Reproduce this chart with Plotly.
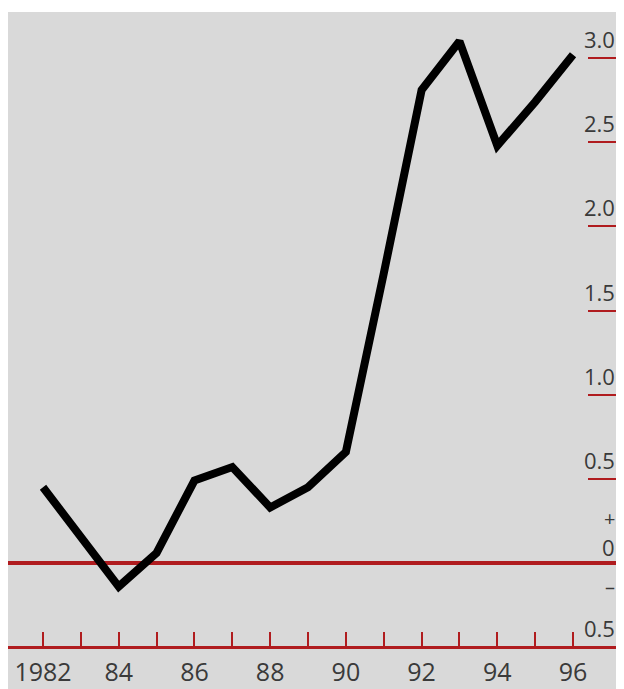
import plotly.graph_objects as go

years = list(range(1982, 1997))
values = [0.45, 0.15, -0.14, 0.06, 0.49, 0.57, 0.33, 0.45, 0.66, 1.72, 2.81, 3.10, 2.48, 2.74, 3.02]

x_tick_vals = list(range(1982, 1997))
x_tick_text = ["1982", "", "84", "", "86", "", "88", "", "90", "", "92", "", "94", "", "96"]

y_tick_vals = [0.5, 1.0, 1.5, 2.0, 2.5, 3.0]
y_label_vals = [3.0, 2.5, 2.0, 1.5, 1.0, 0.5, -0.5]
y_label_text = ["3.0", "2.5", "2.0", "1.5", "1.0", "0.5", "0.5"]

RED = "#b01c1f"
TXT = "#3a3a3a"
FONT = "Open Sans"

# visible page area starts at (8, 8) and ends near x = 616
W, H = 608, 681
ML, MR, MT, MB = 0, 0, 4, 0
plot_w = W - ML - MR
plot_h = H - MT - MB
px_per_year = 37.86
px_per_unit = 168.3
x_lo = 1982 - (43 - 8) / px_per_year
x_hi = x_lo + plot_w / px_per_year
y_top = (563 - 12) / px_per_unit
y_bot = y_top - plot_h / px_per_unit

fig = go.Figure()
fig.add_trace(go.Scatter(
    x=years, y=values, mode="lines",
    line=dict(color="black", width=8),
    hoverinfo="skip", showlegend=False,
))

annotations = []
for v, t in zip(y_label_vals, y_label_text):
    annotations.append(dict(
        x=1, xref="paper", y=v, yref="y", text=t, showarrow=False,
        xanchor="right", yanchor="bottom", xshift=1, yshift=2,
        font=dict(family=FONT, size=22, color=TXT),
    ))
annotations.append(dict(
    x=1, xref="paper", y=0, yref="y", text="0", showarrow=False,
    xanchor="right", yanchor="bottom", xshift=1, yshift=-1,
    font=dict(family=FONT, size=22, color=TXT),
))
annotations.append(dict(
    x=1, xref="paper", y=0, yref="y", text="+", showarrow=False,
    xanchor="right", yanchor="bottom", xshift=1, yshift=29,
    font=dict(family=FONT, size=20, color=TXT),
))
annotations.append(dict(
    x=1, xref="paper", y=0, yref="y", text="–", showarrow=False,
    xanchor="right", yanchor="top", xshift=1, yshift=-8,
    font=dict(family=FONT, size=20, color=TXT),
))

fig.update_layout(
    width=W, height=H,
    margin=dict(l=ML, r=MR, t=MT, b=MB),
    paper_bgcolor="white",
    plot_bgcolor="#d9d9d9",
    annotations=annotations,
    xaxis=dict(
        range=[x_lo, x_hi],
        anchor="free", position=(plot_h - (647 - 12)) / plot_h,
        automargin=False,
        showline=True, linecolor=RED, linewidth=3,
        ticks="inside", ticklen=14, tickwidth=2, tickcolor=RED,
        tickvals=x_tick_vals, ticktext=x_tick_text,
        tickfont=dict(family=FONT, size=25, color=TXT),
        ticklabelstandoff=2,
        showgrid=False, zeroline=False,
    ),
    yaxis=dict(
        range=[y_bot, y_top],
        side="right", automargin=False,
        tickvals=y_tick_vals,
        ticks="inside", ticklen=28, tickwidth=2, tickcolor=RED,
        showticklabels=False,
        showgrid=False, showline=False,
        zeroline=True, zerolinecolor=RED, zerolinewidth=4,
    ),
)

fig.write_html("out.html")
